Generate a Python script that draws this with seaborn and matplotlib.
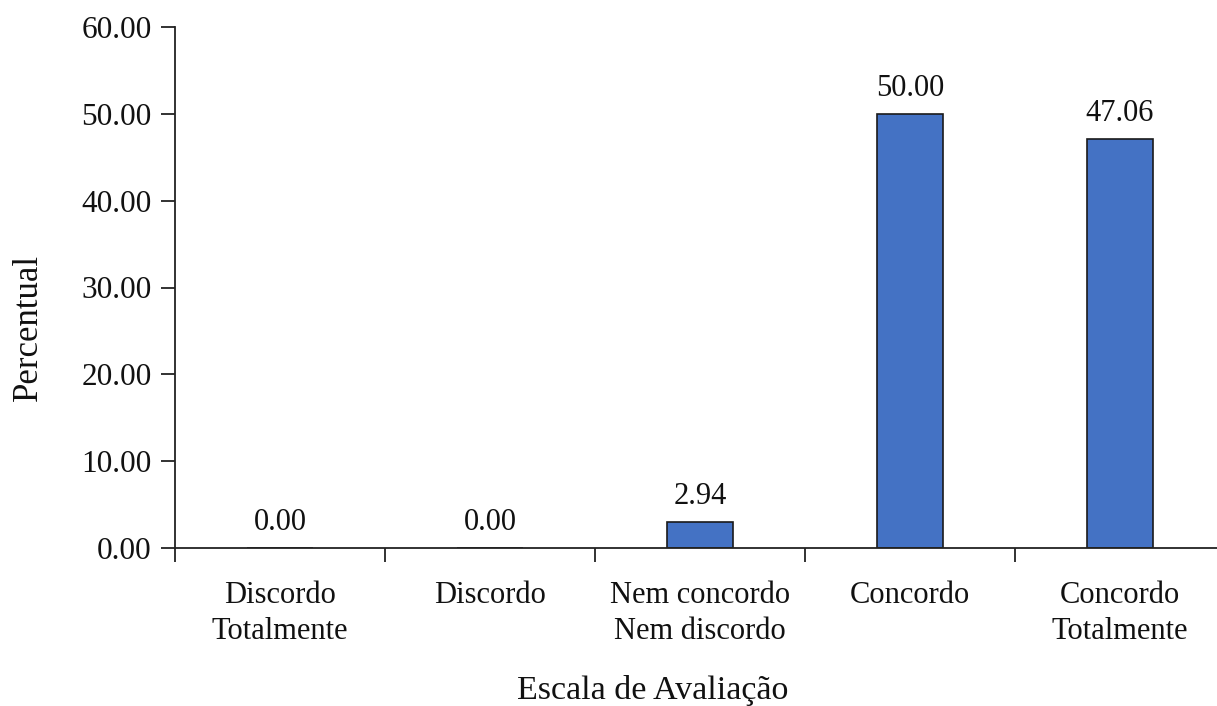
import matplotlib
matplotlib.use("Agg")
import matplotlib.pyplot as plt
import seaborn as sns
import pandas as pd

categorias = ["Discordo\nTotalmente", "Discordo", "Nem concordo\nNem discordo",
              "Concordo", "Concordo\nTotalmente"]
percentuais = [0.00, 0.00, 2.94, 50.00, 47.06]
yticks = [0, 10, 20, 30, 40, 50, 60]

sns.set_theme(style="ticks")
plt.rcParams["font.family"] = ["Liberation Serif", "DejaVu Serif"]

df = pd.DataFrame({"categoria": categorias, "percentual": percentuais})

W, H = 1217, 706
fig = plt.figure(figsize=(W / 100, H / 100), dpi=100)
ax = fig.add_axes([175 / W, (H - 548) / H, (1225 - 175) / W, (548 - 27) / H])

sns.barplot(data=df, x="categoria", y="percentual", color="#4472C4",
            saturation=1, width=0.31, edgecolor="#1a1a1a", linewidth=1.2, ax=ax)

ax.set_xlim(-0.5, 4.5)
ax.set_ylim(0, 60)
ax.set_yticks(yticks)
ax.set_yticklabels([f"{v:.2f}" for v in yticks], fontsize=22.5, color="#111111")
ax.set_xticks([i + 0.5 for i in range(-1, 5)], minor=False)
ax.set_xticklabels([])
ax.set_xticks(range(len(categorias)), minor=True)
ax.set_xticklabels(categorias, minor=True, fontsize=22, linespacing=1.3, color="#111111")
ax.tick_params(axis="x", which="minor", length=0, pad=24)
ax.tick_params(axis="x", which="major", length=10, width=1.3, color="#222222")
ax.tick_params(axis="y", length=10, width=1.3, color="#222222", pad=7)

for side in ["top", "right"]:
    ax.spines[side].set_visible(False)
for side in ["left", "bottom"]:
    ax.spines[side].set_linewidth(1.3)
    ax.spines[side].set_color("#222222")

for i, v in enumerate(percentuais):
    ax.annotate(f"{v:.2f}", (i, v), xytext=(0, 8), textcoords="offset points",
                ha="center", va="bottom", fontsize=22, color="#111111")

ax.set_xlabel("")
ax.set_ylabel("")
fig.text(28 / W, (H - 327) / H, "Percentual", rotation=90, ha="center", va="center",
         fontsize=25, color="#111111")
fig.text(653 / W, (H - 690) / H, "Escala de Avaliação", ha="center", va="center",
         fontsize=24.5, color="#111111")

fig.savefig("out.png", dpi=100)
